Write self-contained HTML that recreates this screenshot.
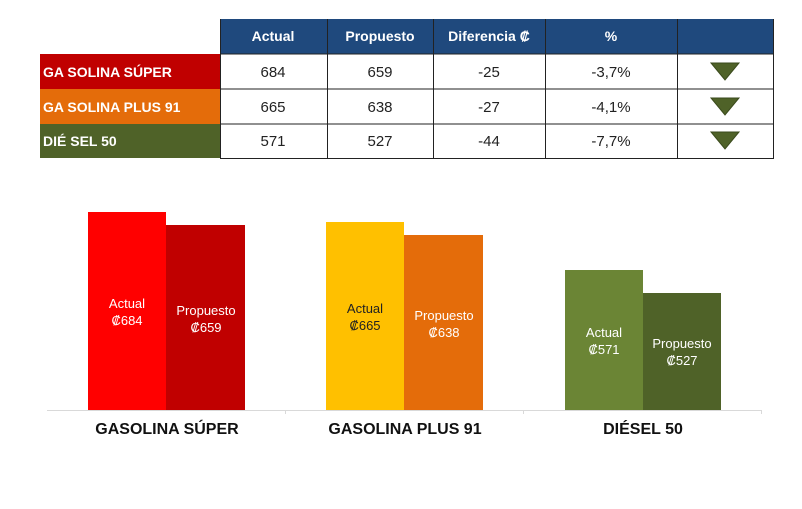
<!DOCTYPE html>
<html><head><meta charset="utf-8"><style>
html,body{margin:0;padding:0;background:#fff;}
svg{display:block;font-family:"Liberation Sans",Arial,sans-serif;}
</style></head><body>
<svg width="802" height="509" viewBox="0 0 802 509" xmlns="http://www.w3.org/2000/svg">
<rect width="802" height="509" fill="#fff"/>
<!-- header -->
<rect x="220" y="19" width="554" height="35" fill="#1f497d"/>
<g fill="#fff" font-weight="bold" font-size="14" text-anchor="middle">
<text x="273" y="41">Actual</text>
<text x="380" y="41">Propuesto</text>
<text x="489" y="41">Diferencia ₡</text>
<text x="611" y="41">%</text>
</g>
<!-- row labels -->
<rect x="40" y="54" width="180" height="35" fill="#c00000"/>
<rect x="40" y="89" width="180" height="35" fill="#e46c0a"/>
<rect x="40" y="124" width="180" height="34" fill="#4f6228"/>
<g fill="#fff" font-weight="bold" font-size="14">
<text x="43" y="77">GA SOLINA  SÚPER</text>
<text x="43" y="112">GA SOLINA  PLUS 91</text>
<text x="43" y="146">DIÉ SEL 50</text>
</g>
<!-- grid -->
<g stroke="#222" stroke-width="1" fill="none">
<line x1="220" y1="54" x2="774" y2="54"/>
<line x1="220" y1="89" x2="774" y2="89"/>
<line x1="220" y1="124" x2="774" y2="124"/>
<line x1="220" y1="158.5" x2="774" y2="158.5"/>
<line x1="220.5" y1="19" x2="220.5" y2="158"/>
<line x1="327.5" y1="19" x2="327.5" y2="158"/>
<line x1="433.5" y1="19" x2="433.5" y2="158"/>
<line x1="545.5" y1="19" x2="545.5" y2="158"/>
<line x1="677.5" y1="19" x2="677.5" y2="158"/>
<line x1="773.5" y1="19" x2="773.5" y2="158"/>
</g>
<g fill="#222" font-size="15" text-anchor="middle">
<text x="273" y="77">684</text><text x="380" y="77">659</text><text x="489" y="77">-25</text><text x="611" y="77">-3,7%</text>
<text x="273" y="112">665</text><text x="380" y="112">638</text><text x="489" y="112">-27</text><text x="611" y="112">-4,1%</text>
<text x="273" y="146">571</text><text x="380" y="146">527</text><text x="489" y="146">-44</text><text x="611" y="146">-7,7%</text>
</g>
<g fill="#4f6228" stroke="#3a4a1c" stroke-width="1">
<polygon points="711,63 739,63 725,80"/>
<polygon points="711,98 739,98 725,115"/>
<polygon points="711,132 739,132 725,149"/>
</g>
<!-- chart -->
<rect x="88" y="212" width="78" height="198" fill="#ff0000"/>
<rect x="166" y="225" width="79" height="185" fill="#c00000"/>
<rect x="326" y="222" width="78" height="188" fill="#ffc000"/>
<rect x="404" y="235" width="79" height="175" fill="#e46c0a"/>
<rect x="565" y="270" width="78" height="140" fill="#6b8535"/>
<rect x="643" y="293" width="78" height="117" fill="#4f6228"/>
<line x1="47" y1="410.5" x2="762" y2="410.5" stroke="#d9d9d9"/>
<line x1="285.5" y1="410" x2="285.5" y2="414" stroke="#d9d9d9"/>
<line x1="523.5" y1="410" x2="523.5" y2="414" stroke="#d9d9d9"/>
<line x1="761.5" y1="410" x2="761.5" y2="414" stroke="#d9d9d9"/>
<g font-size="13" text-anchor="middle">
<text x="127" y="308" fill="#fff">Actual</text><text x="127" y="325" fill="#fff">₡684</text>
<text x="206" y="315" fill="#fff">Propuesto</text><text x="206" y="332" fill="#fff">₡659</text>
<text x="365" y="313" fill="#222">Actual</text><text x="365" y="330" fill="#222">₡665</text>
<text x="444" y="320" fill="#fff">Propuesto</text><text x="444" y="337" fill="#fff">₡638</text>
<text x="604" y="337" fill="#fff">Actual</text><text x="604" y="354" fill="#fff">₡571</text>
<text x="682" y="348" fill="#fff">Propuesto</text><text x="682" y="365" fill="#fff">₡527</text>
</g>
<g font-size="16" font-weight="bold" fill="#111" text-anchor="middle">
<text x="167" y="434">GASOLINA SÚPER</text>
<text x="405" y="434">GASOLINA PLUS 91</text>
<text x="643" y="434">DIÉSEL 50</text>
</g>
</svg>
</body></html>
